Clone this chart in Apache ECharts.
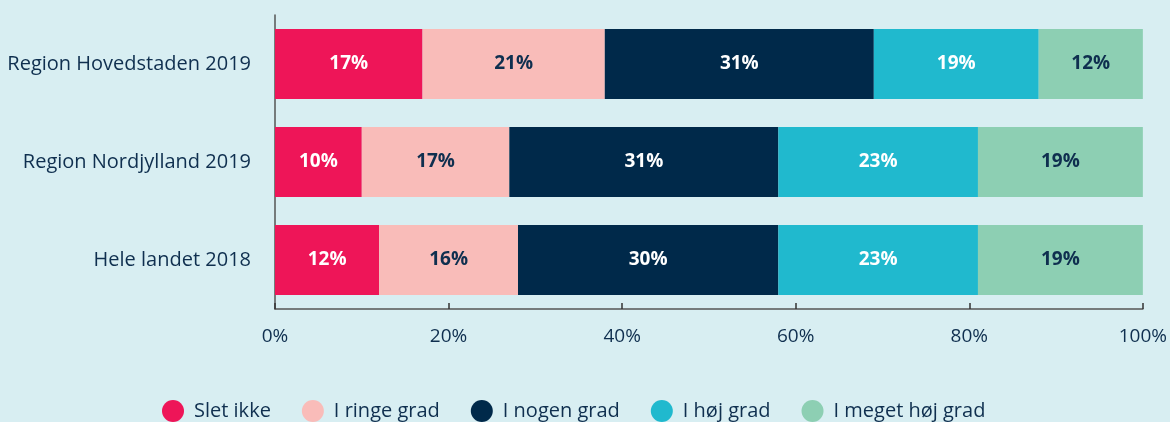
<!DOCTYPE html>
<html><head><meta charset="utf-8">
<script src="https://cdn.jsdelivr.net/npm/echarts@6/dist/echarts.min.js"></script>
<style>html,body{margin:0;padding:0;background:#d8eef2;}#c{width:1170px;height:422px;}</style>
</head><body><div id="c"></div>
<script>
const categories = ['Region Hovedstaden 2019', 'Region Nordjylland 2019', 'Hele landet 2018'];
const seriesNames = ['Slet ikke', 'I ringe grad', 'I nogen grad', 'I høj grad', 'I meget høj grad'];
const sletIkke = [17, 10, 12];
const iRingeGrad = [21, 17, 16];
const iNogenGrad = [31, 31, 30];
const iHojGrad = [19, 23, 23];
const iMegetHojGrad = [12, 19, 19];
const xTicks = [0, 20, 40, 60, 80, 100];

const values = [sletIkke, iRingeGrad, iNogenGrad, iHojGrad, iMegetHojGrad];
const colors = ['#ee1558', '#f9bcb9', '#00294a', '#20b9ce', '#8dcfb3'];
const labelColors = ['#ffffff', '#0f2f4f', '#ffffff', '#ffffff', '#0f2f4f'];
const font = '"Open Sans", sans-serif';

const chart = echarts.init(document.getElementById('c'));
chart.setOption({
  backgroundColor: '#d8eef2',
  animation: false,
  textStyle: { fontFamily: font },
  grid: { left: 275, right: 27, top: 15, height: 294 },
  legend: {
    bottom: 0, left: 162, padding: 0,
    icon: 'circle', itemWidth: 22, itemHeight: 22, itemGap: 31,
    textStyle: { fontFamily: font, fontSize: 20, color: '#0f2f4f', padding: [0, 0, 0, 5] },
    data: seriesNames
  },
  xAxis: {
    type: 'value', min: 0, max: 100, interval: 20,
    axisLine: { show: true, lineStyle: { color: '#555555', width: 1.5 } },
    axisTick: { show: true, inside: true, length: 6, lineStyle: { color: '#333333', width: 1.5 } },
    splitLine: { show: false },
    axisLabel: { formatter: v => v + '%', fontFamily: font, fontSize: 19, color: '#0f2f4f', margin: 18 }
  },
  yAxis: {
    type: 'category', data: categories, inverse: true,
    axisLine: { show: true, lineStyle: { color: '#555555', width: 1.5 } },
    axisTick: { show: false },
    axisLabel: { fontFamily: font, fontSize: 20, color: '#0f2f4f', margin: 24 }
  },
  series: seriesNames.map((name, i) => ({
    name, type: 'bar', stack: 'total', barWidth: 70,
    itemStyle: { color: colors[i] },
    label: { show: true, position: 'inside', formatter: p => p.value + '%',
      fontFamily: font, fontSize: 19, fontWeight: 'bold', color: labelColors[i] },
    data: values[i]
  }))
});
</script></body></html>
